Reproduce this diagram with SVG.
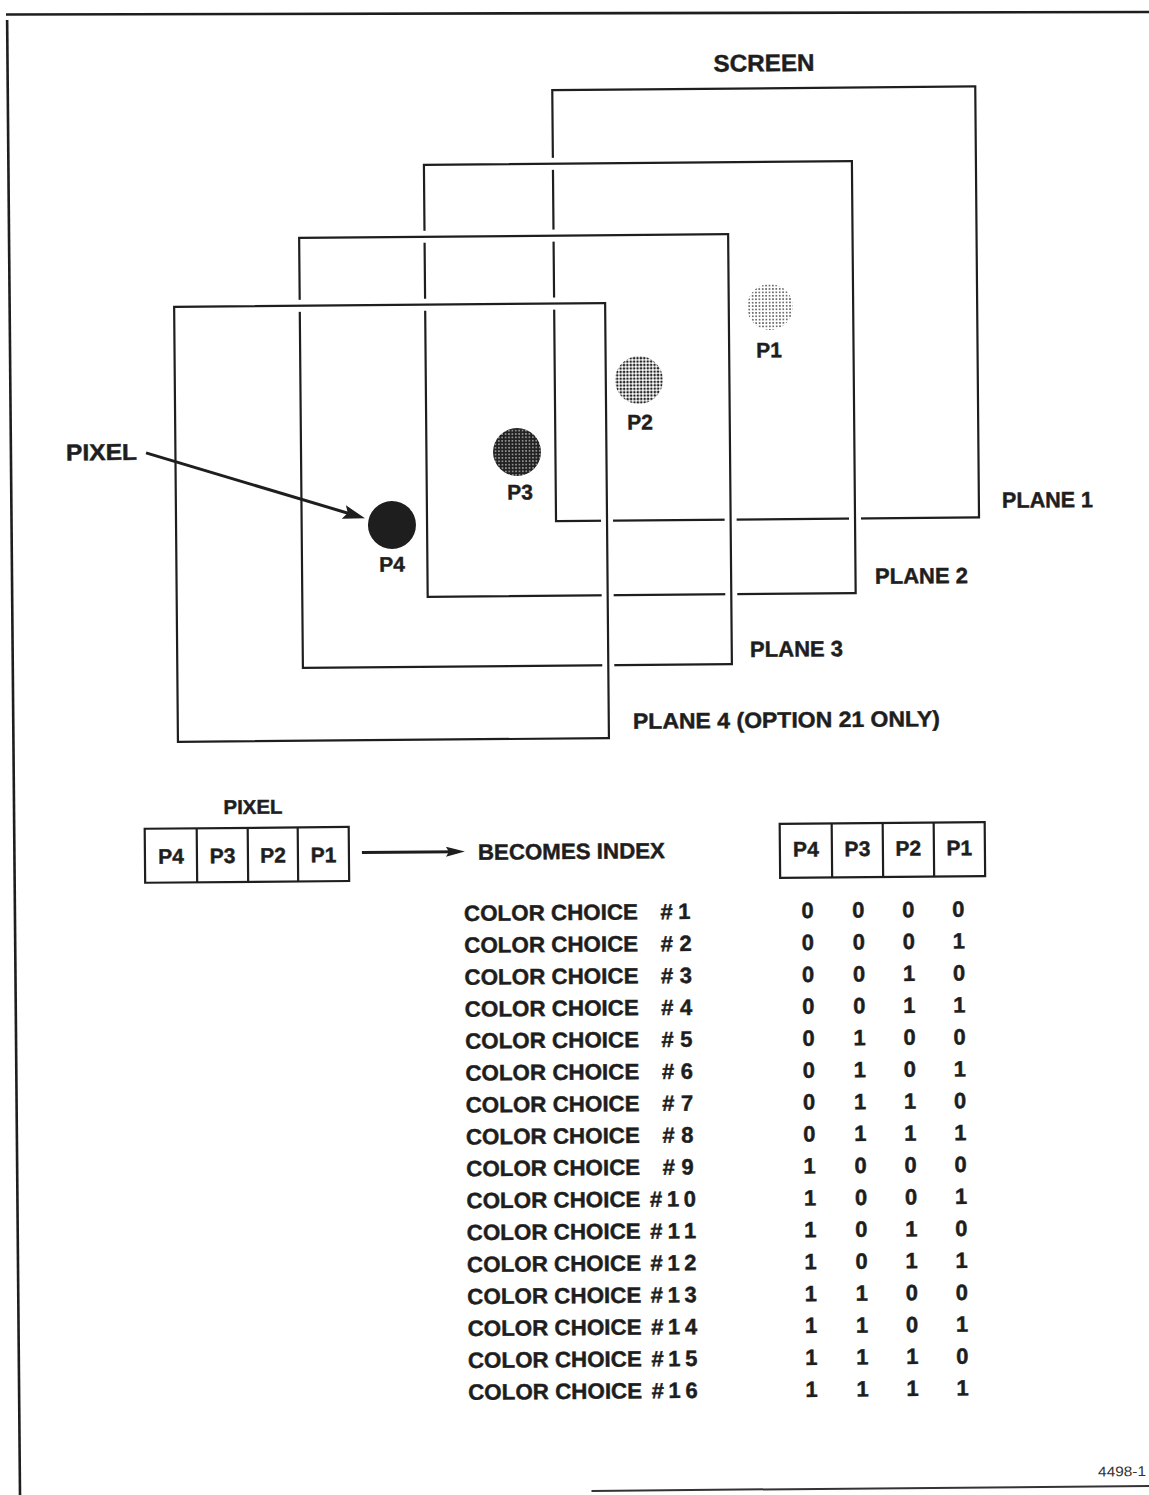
<svg xmlns="http://www.w3.org/2000/svg" width="1149" height="1495" viewBox="0 0 1149 1495">
<style>
.ln{fill:none;stroke:#1e1e1e;stroke-width:2.2}
.halo{fill:none;stroke:#fff;stroke-width:12}
.t{font-family:"Liberation Sans",Arial,Helvetica,sans-serif;font-weight:bold;fill:#1e1e1e;stroke:#1e1e1e;stroke-width:0.45}
.c{text-anchor:middle}
.lab{font-size:22px}
.pl{font-size:21px}
.dg{font-size:22px;text-anchor:middle}
.arr{fill:none;stroke:#1e1e1e;stroke-width:3}
</style>
<defs>
<pattern id="dot1" patternUnits="userSpaceOnUse" width="3.4" height="3.4">
<circle cx="1.7" cy="1.7" r="0.75" fill="#222"/>
</pattern>
<pattern id="dot2" patternUnits="userSpaceOnUse" width="3.4" height="3.4">
<circle cx="1.7" cy="1.7" r="1.3" fill="#222"/>
</pattern>
<pattern id="dot3" patternUnits="userSpaceOnUse" width="3.4" height="3.4">
<rect width="3.4" height="3.4" fill="#222"/>
<rect x="1.1" y="1.1" width="1.2" height="1.2" fill="#fff"/>
</pattern>
<marker id="ahBig" viewBox="0 0 22 14" refX="13" refY="7" markerWidth="22" markerHeight="14" orient="auto" markerUnits="userSpaceOnUse">
<path d="M0,0 L22,7 L0,14 L4,7 z" fill="#1e1e1e"/>
</marker>
<marker id="ahSmall" viewBox="0 0 19 10" refX="11" refY="5" markerWidth="19" markerHeight="10" orient="auto" markerUnits="userSpaceOnUse">
<path d="M0,0 L19,5 L0,10 L3,5 z" fill="#1e1e1e"/>
</marker>
</defs>
<rect width="1149" height="1495" fill="#fff"/>
<g id="page-top-border">
<path d="M6,14.5 L1149,12" fill="none" stroke="#1e1e1e" stroke-width="2.6"/>
</g>
<g transform="rotate(-0.5 574 747)">
<g id="page-border">
<path d="M13.5,1510 L13.5,15" fill="none" stroke="#1e1e1e" stroke-width="2.6"/>
<path d="M585,1491 L1170,1491" fill="none" stroke="#333" stroke-width="2"/>
</g>
<text class="t c" x="770" y="73" font-size="24" textLength="101" lengthAdjust="spacingAndGlyphs">SCREEN</text>

<g id="plane1">
<rect class="ln" x="558" y="90" width="423" height="431"/>
<text class="t lab" x="1004.2" y="511.6" textLength="91" lengthAdjust="spacingAndGlyphs">PLANE 1</text>
</g>
<g id="plane2">
<rect class="halo" x="429" y="163.6" width="428" height="432"/>
<rect class="ln" x="429" y="163.6" width="428" height="432"/>
<text class="t lab" x="876.5" y="586.5" textLength="93" lengthAdjust="spacingAndGlyphs">PLANE 2</text>
</g>
<g id="plane3">
<rect class="halo" x="303.6" y="235.5" width="429" height="430"/>
<rect class="ln" x="303.6" y="235.5" width="429" height="430"/>
<text class="t lab" x="750.9" y="658.5" textLength="93" lengthAdjust="spacingAndGlyphs">PLANE 3</text>
</g>
<g id="plane4">
<rect class="halo" x="178" y="303.4" width="431" height="435"/>
<rect class="ln" x="178" y="303.4" width="431" height="435" stroke-width="2.7"/>
<text class="t lab" x="633.2" y="729.4" textLength="307" lengthAdjust="spacingAndGlyphs">PLANE 4 (OPTION 21 ONLY)</text>
</g>

<g id="pixel-p1">
<circle cx="773.8" cy="308.7" r="23" fill="url(#dot1)"/>
<text class="t c pl" x="772.5" y="359">P1</text>
</g>
<g id="pixel-p2">
<circle cx="642.2" cy="380.6" r="24" fill="url(#dot2)"/>
<text class="t c pl" x="642.8" y="430">P2</text>
</g>
<g id="pixel-p3">
<circle cx="519.6" cy="451.5" r="24" fill="url(#dot3)"/>
<text class="t c pl" x="522.2" y="499">P3</text>
</g>
<g id="pixel-p4">
<circle cx="393.9" cy="523.4" r="24" fill="#1e1e1e"/>
<text class="t c pl" x="393.6" y="570">P4</text>
</g>

<g id="pixel-label">
<text class="t" x="68.6" y="456" font-size="23" textLength="71" lengthAdjust="spacingAndGlyphs">PIXEL</text>
</g>

<g id="pixel-word">
<text class="t c" x="252.5" y="811" font-size="20" textLength="59" lengthAdjust="spacingAndGlyphs">PIXEL</text>
<rect class="ln" x="144" y="825" width="204" height="54" stroke-width="2.6"/>
<path class="ln" d="M196,825 V879 M247,825 V879 M297,825 V879"/>
<text class="t c pl" x="170" y="860">P4</text>
<text class="t c pl" x="221.5" y="860">P3</text>
<text class="t c pl" x="272" y="860">P2</text>
<text class="t c pl" x="322.5" y="860">P1</text>
</g>

<g id="becomes-index">
<text class="t lab" x="477" y="859" textLength="187" lengthAdjust="spacingAndGlyphs">BECOMES INDEX</text>
</g>

<g id="index-header">
<rect class="ln" x="779" y="825.7" width="205" height="54" stroke-width="2.6"/>
<path class="ln" d="M831,825.7 V879.7 M882,825.7 V879.7 M933,825.7 V879.7"/>
<text class="t c pl" x="805" y="858.5">P4</text>
<text class="t c pl" x="856.5" y="858.5">P3</text>
<text class="t c pl" x="907.5" y="858.5">P2</text>
<text class="t c pl" x="958.5" y="858.5">P1</text>
</g>

<g id="table">
<g id="row1"><text class="t lab" x="462.5" y="920" textLength="174" lengthAdjust="spacingAndGlyphs">COLOR CHOICE</text><text class="t lab" x="659" y="920" textLength="30" lengthAdjust="spacing">#1</text>
<text class="t dg" x="806" y="920">0</text><text class="t dg" x="857" y="920">0</text><text class="t dg" x="907" y="920">0</text><text class="t dg" x="957" y="920">0</text></g>
<g id="row2"><text class="t lab" x="462.5" y="951.9" textLength="174" lengthAdjust="spacingAndGlyphs">COLOR CHOICE</text><text class="t lab" x="659" y="951.9" textLength="31" lengthAdjust="spacing">#2</text>
<text class="t dg" x="806" y="951.9">0</text><text class="t dg" x="857" y="951.9">0</text><text class="t dg" x="907" y="951.9">0</text><text class="t dg" x="957" y="951.9">1</text></g>
<g id="row3"><text class="t lab" x="462.5" y="983.9" textLength="174" lengthAdjust="spacingAndGlyphs">COLOR CHOICE</text><text class="t lab" x="659" y="983.9" textLength="31" lengthAdjust="spacing">#3</text>
<text class="t dg" x="806" y="983.9">0</text><text class="t dg" x="857" y="983.9">0</text><text class="t dg" x="907" y="983.9">1</text><text class="t dg" x="957" y="983.9">0</text></g>
<g id="row4"><text class="t lab" x="462.5" y="1015.8" textLength="174" lengthAdjust="spacingAndGlyphs">COLOR CHOICE</text><text class="t lab" x="659" y="1015.8" textLength="31" lengthAdjust="spacing">#4</text>
<text class="t dg" x="806" y="1015.8">0</text><text class="t dg" x="857" y="1015.8">0</text><text class="t dg" x="907" y="1015.8">1</text><text class="t dg" x="957" y="1015.8">1</text></g>
<g id="row5"><text class="t lab" x="462.5" y="1047.7" textLength="174" lengthAdjust="spacingAndGlyphs">COLOR CHOICE</text><text class="t lab" x="659" y="1047.7" textLength="31" lengthAdjust="spacing">#5</text>
<text class="t dg" x="806" y="1047.7">0</text><text class="t dg" x="857" y="1047.7">1</text><text class="t dg" x="907" y="1047.7">0</text><text class="t dg" x="957" y="1047.7">0</text></g>
<g id="row6"><text class="t lab" x="462.5" y="1079.7" textLength="174" lengthAdjust="spacingAndGlyphs">COLOR CHOICE</text><text class="t lab" x="659" y="1079.7" textLength="31" lengthAdjust="spacing">#6</text>
<text class="t dg" x="806" y="1079.7">0</text><text class="t dg" x="857" y="1079.7">1</text><text class="t dg" x="907" y="1079.7">0</text><text class="t dg" x="957" y="1079.7">1</text></g>
<g id="row7"><text class="t lab" x="462.5" y="1111.6" textLength="174" lengthAdjust="spacingAndGlyphs">COLOR CHOICE</text><text class="t lab" x="659" y="1111.6" textLength="31" lengthAdjust="spacing">#7</text>
<text class="t dg" x="806" y="1111.6">0</text><text class="t dg" x="857" y="1111.6">1</text><text class="t dg" x="907" y="1111.6">1</text><text class="t dg" x="957" y="1111.6">0</text></g>
<g id="row8"><text class="t lab" x="462.5" y="1143.5" textLength="174" lengthAdjust="spacingAndGlyphs">COLOR CHOICE</text><text class="t lab" x="659" y="1143.5" textLength="31" lengthAdjust="spacing">#8</text>
<text class="t dg" x="806" y="1143.5">0</text><text class="t dg" x="857" y="1143.5">1</text><text class="t dg" x="907" y="1143.5">1</text><text class="t dg" x="957" y="1143.5">1</text></g>
<g id="row9"><text class="t lab" x="462.5" y="1175.4" textLength="174" lengthAdjust="spacingAndGlyphs">COLOR CHOICE</text><text class="t lab" x="659" y="1175.4" textLength="31" lengthAdjust="spacing">#9</text>
<text class="t dg" x="806" y="1175.4">1</text><text class="t dg" x="857" y="1175.4">0</text><text class="t dg" x="907" y="1175.4">0</text><text class="t dg" x="957" y="1175.4">0</text></g>
<g id="row10"><text class="t lab" x="462.5" y="1207.4" textLength="174" lengthAdjust="spacingAndGlyphs">COLOR CHOICE</text><text class="t lab" x="646" y="1207.4" textLength="46" lengthAdjust="spacing">#10</text>
<text class="t dg" x="806" y="1207.4">1</text><text class="t dg" x="857" y="1207.4">0</text><text class="t dg" x="907" y="1207.4">0</text><text class="t dg" x="957" y="1207.4">1</text></g>
<g id="row11"><text class="t lab" x="462.5" y="1239.3" textLength="174" lengthAdjust="spacingAndGlyphs">COLOR CHOICE</text><text class="t lab" x="646" y="1239.3" textLength="46" lengthAdjust="spacing">#11</text>
<text class="t dg" x="806" y="1239.3">1</text><text class="t dg" x="857" y="1239.3">0</text><text class="t dg" x="907" y="1239.3">1</text><text class="t dg" x="957" y="1239.3">0</text></g>
<g id="row12"><text class="t lab" x="462.5" y="1271.2" textLength="174" lengthAdjust="spacingAndGlyphs">COLOR CHOICE</text><text class="t lab" x="646" y="1271.2" textLength="46" lengthAdjust="spacing">#12</text>
<text class="t dg" x="806" y="1271.2">1</text><text class="t dg" x="857" y="1271.2">0</text><text class="t dg" x="907" y="1271.2">1</text><text class="t dg" x="957" y="1271.2">1</text></g>
<g id="row13"><text class="t lab" x="462.5" y="1303.2" textLength="174" lengthAdjust="spacingAndGlyphs">COLOR CHOICE</text><text class="t lab" x="646" y="1303.2" textLength="46" lengthAdjust="spacing">#13</text>
<text class="t dg" x="806" y="1303.2">1</text><text class="t dg" x="857" y="1303.2">1</text><text class="t dg" x="907" y="1303.2">0</text><text class="t dg" x="957" y="1303.2">0</text></g>
<g id="row14"><text class="t lab" x="462.5" y="1335.1" textLength="174" lengthAdjust="spacingAndGlyphs">COLOR CHOICE</text><text class="t lab" x="646" y="1335.1" textLength="46" lengthAdjust="spacing">#14</text>
<text class="t dg" x="806" y="1335.1">1</text><text class="t dg" x="857" y="1335.1">1</text><text class="t dg" x="907" y="1335.1">0</text><text class="t dg" x="957" y="1335.1">1</text></g>
<g id="row15"><text class="t lab" x="462.5" y="1367" textLength="174" lengthAdjust="spacingAndGlyphs">COLOR CHOICE</text><text class="t lab" x="646" y="1367" textLength="46" lengthAdjust="spacing">#15</text>
<text class="t dg" x="806" y="1367">1</text><text class="t dg" x="857" y="1367">1</text><text class="t dg" x="907" y="1367">1</text><text class="t dg" x="957" y="1367">0</text></g>
<g id="row16"><text class="t lab" x="462.5" y="1398.9" textLength="174" lengthAdjust="spacingAndGlyphs">COLOR CHOICE</text><text class="t lab" x="646" y="1398.9" textLength="46" lengthAdjust="spacing">#16</text>
<text class="t dg" x="806" y="1398.9">1</text><text class="t dg" x="857" y="1398.9">1</text><text class="t dg" x="907" y="1398.9">1</text><text class="t dg" x="957" y="1398.9">1</text></g>
</g>

<g id="connectors">
<path class="arr" d="M148.6,449.1 L358.4,513.8" marker-end="url(#ahBig)"/>
<path class="arr" d="M361,850.6 L456,850.6" stroke-width="2.4" marker-end="url(#ahSmall)"/>
</g>

<text x="1091.7" y="1481" font-family="'Liberation Sans',Arial,sans-serif" font-size="14" fill="#333" textLength="48" lengthAdjust="spacingAndGlyphs">4498-1</text>
</g>
</svg>
